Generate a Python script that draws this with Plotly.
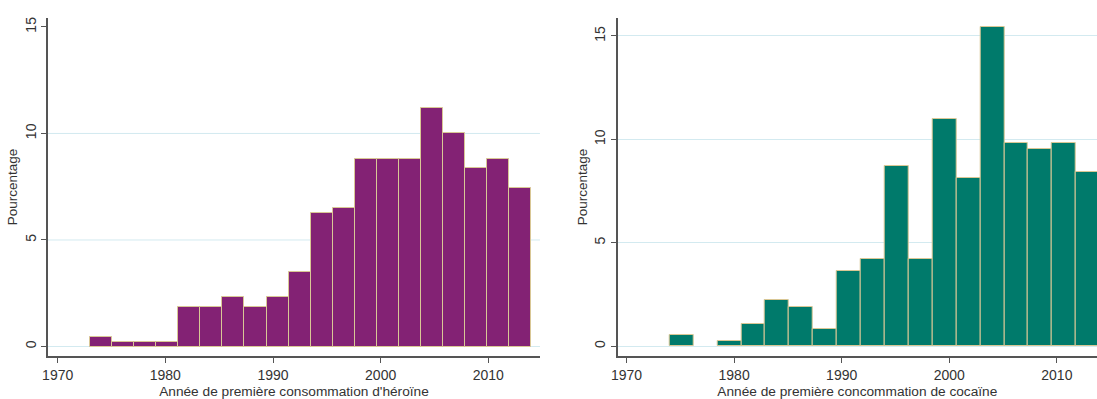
import plotly.graph_objects as go

# Heroin histogram (percent per bin)
heroin_start = 1973.0
heroin_width = 2.05
heroin_pct = [0.46, 0.21, 0.21, 0.21, 1.84, 1.84, 2.31, 1.84, 2.31, 3.5,
              6.28, 6.5, 8.82, 8.82, 8.82, 11.18, 10.0, 8.38, 8.82, 7.43]

# Cocaine histogram (percent per bin)
cocaine_start = 1974.0
cocaine_width = 40.0 / 18
cocaine_pct = [0.53, 0.0, 0.26, 1.06, 2.23, 1.9, 0.81, 3.64, 4.22, 8.71,
               4.22, 10.97, 8.11, 15.45, 9.81, 9.52, 9.81, 8.4]

x_ticks = [1970, 1980, 1990, 2000, 2010]
y_ticks = [0, 5, 10, 15]
x_title_heroin = "Année de première consommation d'héroïne"
x_title_cocaine = "Année de première concommation de cocaïne"
y_title = "Pourcentage"

PURPLE = "#832274"
GREEN = "#007A6B"
EDGE = "#d9c795"
GRID = "#d3eaf0"
AXIS = "#555555"
FONT = "Liberation Sans, Arial, sans-serif"
TXT = "#333333"

def centers(start, width, n):
    return [start + width * (i + 0.5) for i in range(n)]

def edge_widths(vals):
    return [0 if v == 0 else 1 for v in vals]

fig = go.Figure()
fig.add_trace(go.Bar(
    x=centers(heroin_start, heroin_width, len(heroin_pct)), y=heroin_pct,
    width=heroin_width,
    marker=dict(color=PURPLE, line=dict(color=EDGE, width=edge_widths(heroin_pct))),
    xaxis="x", yaxis="y", showlegend=False, hoverinfo="x+y"))
fig.add_trace(go.Bar(
    x=centers(cocaine_start, cocaine_width, len(cocaine_pct)), y=cocaine_pct,
    width=cocaine_width,
    marker=dict(color=GREEN, line=dict(color=EDGE, width=edge_widths(cocaine_pct))),
    xaxis="x2", yaxis="y2", showlegend=False, hoverinfo="x+y"))

common_x = dict(tickvals=x_ticks, ticks="outside", ticklen=5, tickcolor=AXIS,
                showline=True, linecolor=AXIS, linewidth=1.5, showgrid=False,
                zeroline=False, automargin=False,
                tickfont=dict(family=FONT, size=14, color=TXT),
                title_font=dict(family=FONT, size=13.7, color=TXT), title_standoff=7)
common_y = dict(tickvals=y_ticks, ticks="outside", ticklen=5, tickcolor=AXIS,
                showline=True, linecolor=AXIS, linewidth=1.5, zeroline=False,
                automargin=False, tickangle=-90,
                tickfont=dict(family=FONT, size=14, color=TXT),
                title_font=dict(family=FONT, size=13.5, color=TXT), title_standoff=2,
                gridcolor=GRID, gridwidth=1)

fig.update_layout(
    width=1097, height=399,
    margin=dict(l=48, r=0, t=18, b=43),
    paper_bgcolor="white", plot_bgcolor="white",
    bargap=0,
    xaxis=dict(domain=[0, 0.469], range=[1969.1, 2014.8], anchor="y",
               title_text=x_title_heroin, **common_x),
    yaxis=dict(domain=[0, 1], range=[-0.446, 15.42], anchor="x",
               title_text=y_title, showgrid=False, **common_y),
    xaxis2=dict(domain=[0.5431, 1], range=[1969.18, 2013.73], anchor="y2",
                title_text=x_title_cocaine, **common_x),
    yaxis2=dict(domain=[0, 1], range=[-0.48, 15.87], anchor="x2",
                title_text=y_title, showgrid=True, **common_y),
)

# Left panel gridlines (none at the top tick, as in the original)
for v in y_ticks[:-1]:
    fig.add_shape(type="line", xref="x domain", yref="y", x0=0, x1=1, y0=v, y1=v,
                  line=dict(color=GRID, width=1), layer="below")

fig.write_html(
    "out.html",
    config={"displayModeBar": False},
    post_script="document.body.style.margin='0';document.body.style.overflow='hidden';",
)
